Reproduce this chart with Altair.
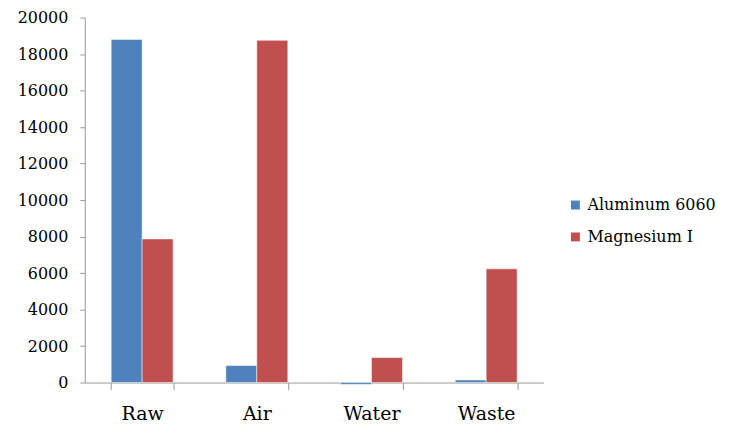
import altair as alt
import pandas as pd

categories = ["Raw", "Air", "Water", "Waste"]
aluminum = [18800, 930, -100, 140]
magnesium = [7870, 18750, 1370, 6230]
series = ["Aluminum 6060", "Magnesium I"]
colors = ["#4F81BD", "#C0504D"]

rows = []
for i, c in enumerate(categories):
    rows.append({"cat": c, "series": series[0], "value": aluminum[i]})
    rows.append({"cat": c, "series": series[1], "value": magnesium[i]})
df = pd.DataFrame(rows)

font = "DejaVu Serif"

chart = alt.Chart(df).mark_bar(stroke="white", strokeWidth=0.5).encode(
    x=alt.X("cat:N", sort=categories, title=None,
            scale=alt.Scale(paddingInner=0.46, paddingOuter=0.23),
            axis=alt.Axis(labelAngle=0, labelFontSize=19, labelFont=font, labelColor="black",
                          domainColor="#999999", tickColor="#999999", tickSize=7,
                          tickBand="extent", labelPadding=15, grid=False)),
    xOffset=alt.XOffset("series:N", sort=series),
    y=alt.Y("value:Q", title=None,
            scale=alt.Scale(domain=[0, 20000], nice=False),
            axis=alt.Axis(values=list(range(0, 20001, 2000)), format="d", grid=False,
                          labelFontSize=16, labelFont=font, labelColor="black",
                          domainColor="#999999", tickColor="#999999", tickSize=5,
                          labelPadding=12)),
    color=alt.Color("series:N", sort=series,
                    scale=alt.Scale(domain=series, range=colors),
                    legend=alt.Legend(title=None, orient="none", legendX=484, legendY=180,
                                      symbolType="square", symbolSize=80, symbolStrokeWidth=0,
                                      labelFont=font, labelFontSize=16, labelColor="black",
                                      rowPadding=16, labelOffset=4, labelLimit=300)),
).properties(
    width=460, height=366,
    autosize=alt.AutoSizeParams(type="none"),
    padding={"left": 77, "top": 9, "right": 180, "bottom": 45},
).configure(font=font).configure_view(stroke=None)

chart.save("out.html", embed_options={"renderer": "svg", "actions": False})
